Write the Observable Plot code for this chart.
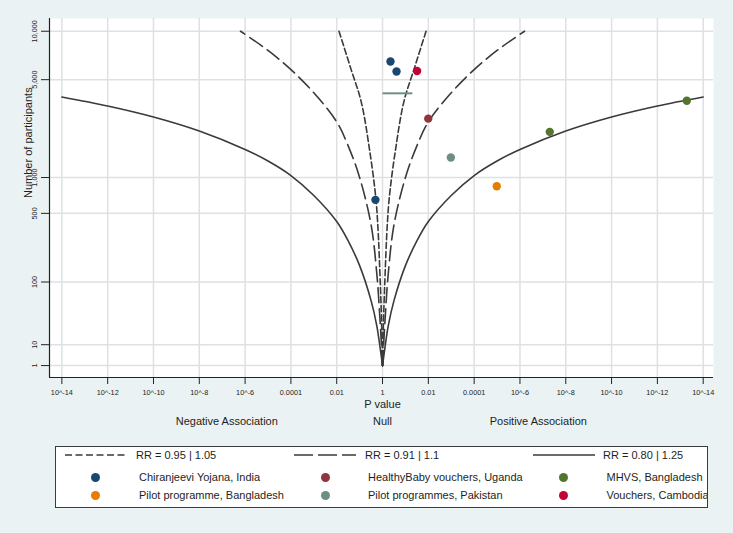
<!DOCTYPE html>
<html><head><meta charset="utf-8">
<script src="https://cdn.jsdelivr.net/npm/d3@7"></script>
<script src="https://cdn.jsdelivr.net/npm/@observablehq/plot@0.6"></script>
<style>
html,body{margin:0;padding:0;background:#eaf2f3;}
#wrap{position:relative;width:733px;height:533px;background:#eaf2f3;font-family:"Liberation Sans",Arial,sans-serif;overflow:hidden;}
#chart{position:absolute;left:0;top:0;}
#legend{position:absolute;left:55px;top:446px;width:653px;height:62px;background:#fff;border:1px solid #3c3c3c;box-sizing:border-box;overflow:hidden;}
.li{position:absolute;font-size:11px;color:#1e1e1e;white-space:nowrap;line-height:13px;}
.ld{position:absolute;width:9px;height:9px;border-radius:50%;}
.ls{position:absolute;}
</style></head><body><div id="wrap"><div id="chart"></div><div id="legend"></div></div>
<script>
// ---- data ----
const studies = ["Chiranjeevi Yojana, India", "HealthyBaby vouchers, Uganda", "MHVS, Bangladesh",
                 "Pilot programme, Bangladesh", "Pilot programmes, Pakistan", "Vouchers, Cambodia"];
const studyColors = ["#1a476f", "#90353b", "#55752f", "#e37e00", "#6e8e84", "#c10534"];

// individual study results: p value, direction of association (+1 positive, -1 negative), participants
const pointStudy = [0, 0, 0, 5, 1, 4, 3, 2, 2];
const pointP     = [0.45, 0.245, 0.49, 0.031, 0.0101, 0.00104, 1.03e-5, 5.0e-8, 5.2e-14];
const pointDir   = [1, 1, -1, 1, 1, 1, 1, 1, 1];
const pointN     = [6530, 5640, 655, 5690, 2740, 1430, 851, 2210, 3630];

// study reported only as a p-value range (p from 1 to 0.05)
const rangeStudy = 4;
const rangeP = [1, 0.05];
const rangeN = 4070;

// effect contours: -log10(p) against number of participants (symmetric about the null)
const contourLabels = ["RR = 0.95 | 1.05", "RR = 0.91 | 1.1", "RR = 0.80 | 1.25"];
const contourDash = ["6,3", "15,6", null];
const shortS = [0, 0.03, 0.1, 0.2, 0.3, 0.57, 0.93, 1.37, 1.9];
const shortN = [1, 20, 100, 370, 700, 1650, 3570, 5800, 10000];
const longS  = [0, 0.1, 0.25, 0.5, 1, 1.5, 2, 3, 4, 5, 6.2];
const longN  = [1, 26, 125, 395, 1000, 1750, 2600, 4100, 5800, 7650, 10000];
const solidS = [0, 0.1, 0.25, 0.5, 1, 1.5, 2, 3, 4, 5, 6, 8, 10, 12, 14];
const solidN = [1, 8, 24, 58, 154, 277, 422, 713, 1037, 1345, 1643, 2240, 2811, 3345, 3846];

const xTicks = [-14, -12, -10, -8, -6, -4, -2, 0, 2, 4, 6, 8, 10, 12, 14];
const xTickLabels = ["10^-14", "10^-12", "10^-10", "10^-8", "10^-6", "0.0001", "0.01", "1",
                     "0.01", "0.0001", "10^-6", "10^-8", "10^-10", "10^-12", "10^-14"];
const yTicks = [1, 10, 100, 500, 1000, 5000, 10000];
const yTickLabels = ["1", "10", "100", "500", "1,000", "5,000", "10,000"];

const sideLabels = [{x: -6.8, label: "Negative Association"}, {x: 0, label: "Null"}, {x: 6.8, label: "Positive Association"}];

// ---- build ----
const yT = n => Math.pow(Math.log10(n), 2);          // axis scale used for participants
const xP = (p, dir) => dir * -Math.log10(p);         // signed -log10(p)

const points = pointP.map((p, i) => ({x: xP(p, pointDir[i]), n: pointN[i], color: studyColors[pointStudy[i]], study: studies[pointStudy[i]]}));
function contour(S, N) {
  const rows = [];
  for (const side of [-1, 1]) S.forEach((s, i) => rows.push({x: side * s, n: N[i], side}));
  return rows;
}
const contours = [contour(shortS, shortN), contour(longS, longN), contour(solidS, solidN)];
const rangeRow = [{x1: xP(rangeP[0], 1), x2: xP(rangeP[1], 1), n: rangeN}];

const xDomain = [-14.54, 14.45];
const yDomain = [-0.57, 16.61];
const ink = "#3a3a3a";
const font = "'Liberation Sans', Arial, sans-serif";

const chart = Plot.plot({
  width: 733, height: 440,
  marginLeft: 49, marginRight: 20, marginTop: 18, marginBottom: 63,
  style: {fontFamily: font, background: "transparent", color: "#1e1e1e"},
  x: {domain: xDomain},
  y: {domain: yDomain},
  marks: [
    Plot.frame({fill: "white", stroke: "none"}),
    Plot.gridX(xTicks, {stroke: "#dde1e3", strokeOpacity: 1, strokeWidth: 1.5}),
    Plot.gridY(yTicks.map(yT), {stroke: "#dde1e3", strokeOpacity: 1, strokeWidth: 1.5}),
    ...contours.map((rows, c) => Plot.line(rows, {
      x: "x", y: d => yT(d.n), z: "side", curve: "catmull-rom",
      stroke: ink, strokeWidth: 1.6, strokeDasharray: contourDash[c] || undefined
    })),
    Plot.link(rangeRow, {x1: "x1", x2: "x2", y1: d => yT(d.n), y2: d => yT(d.n), stroke: studyColors[rangeStudy], strokeWidth: 2}),
    Plot.dot(points, {x: "x", y: d => yT(d.n), fill: "color", r: 4.2, stroke: "none"}),
    Plot.ruleX([xDomain[0]], {stroke: "#222", strokeWidth: 1.2}),
    Plot.ruleY([yDomain[0]], {stroke: "#222", strokeWidth: 1.2}),
    Plot.axisX(xTicks, {tickSize: 7, tickPadding: 5, fontSize: 7.3, stroke: "#222",
      tickFormat: d => xTickLabels[xTicks.indexOf(d)]}),
    Plot.axisY(yTicks.map(yT), {tickSize: 8, tickPadding: 5, fontSize: 7.3, tickRotate: -90, stroke: "#222",
      tickFormat: v => yTickLabels[yTicks.map(yT).indexOf(v)]}),
    Plot.text([{x: 0, label: "P value"}], {x: "x", text: "label", frameAnchor: "bottom", dy: 26.5, fontSize: 11, lineAnchor: "middle"}),
    Plot.text(sideLabels, {x: "x", text: "label", frameAnchor: "bottom", dy: 44, fontSize: 11, lineAnchor: "middle"}),
    Plot.text(["Number of participants"], {frameAnchor: "left", dx: -21, rotate: -90, fontSize: 11, lineAnchor: "middle"})
  ]
});
document.getElementById("chart").appendChild(chart);

// ---- legend ----
const legend = document.getElementById("legend");
const L0 = 55, T0 = 446;
const lineCols = [[64, 135], [293, 364], [532, 602]];
const dotCols = [[94.5, 138], [324.5, 367], [562, 605.5]];
const rowY = [454.3, 476, 494.3];
contourLabels.forEach((lab, c) => {
  const s = document.createElementNS("http://www.w3.org/2000/svg", "svg");
  s.setAttribute("class", "ls"); s.setAttribute("width", 62); s.setAttribute("height", 6);
  s.style.left = (lineCols[c][0] - L0) + "px"; s.style.top = (rowY[0] - 3 - T0) + "px";
  const ln = document.createElementNS("http://www.w3.org/2000/svg", "line");
  ln.setAttribute("x1", 0); ln.setAttribute("x2", 62); ln.setAttribute("y1", 3); ln.setAttribute("y2", 3);
  ln.setAttribute("stroke", ink); ln.setAttribute("stroke-width", 1.6);
  if (contourDash[c]) ln.setAttribute("stroke-dasharray", c === 1 ? "19,5" : "7,3.5");
  s.appendChild(ln); legend.appendChild(s);
  const t = document.createElement("div"); t.className = "li"; t.textContent = lab;
  t.style.left = (lineCols[c][1] - L0) + "px"; t.style.top = (rowY[0] - 6.5 - T0) + "px";
  legend.appendChild(t);
});
studies.forEach((st, i) => {
  const r = 1 + Math.floor(i / 3), col = i % 3;
  const d = document.createElement("div"); d.className = "ld"; d.style.background = studyColors[i];
  d.style.left = (dotCols[col][0] - 4.5 - L0) + "px"; d.style.top = (rowY[r] - 4.5 - T0) + "px";
  legend.appendChild(d);
  const t = document.createElement("div"); t.className = "li"; t.textContent = st;
  t.style.left = (dotCols[col][1] - L0) + "px"; t.style.top = (rowY[r] - 6.5 - T0) + "px";
  legend.appendChild(t);
});
</script></body></html>
